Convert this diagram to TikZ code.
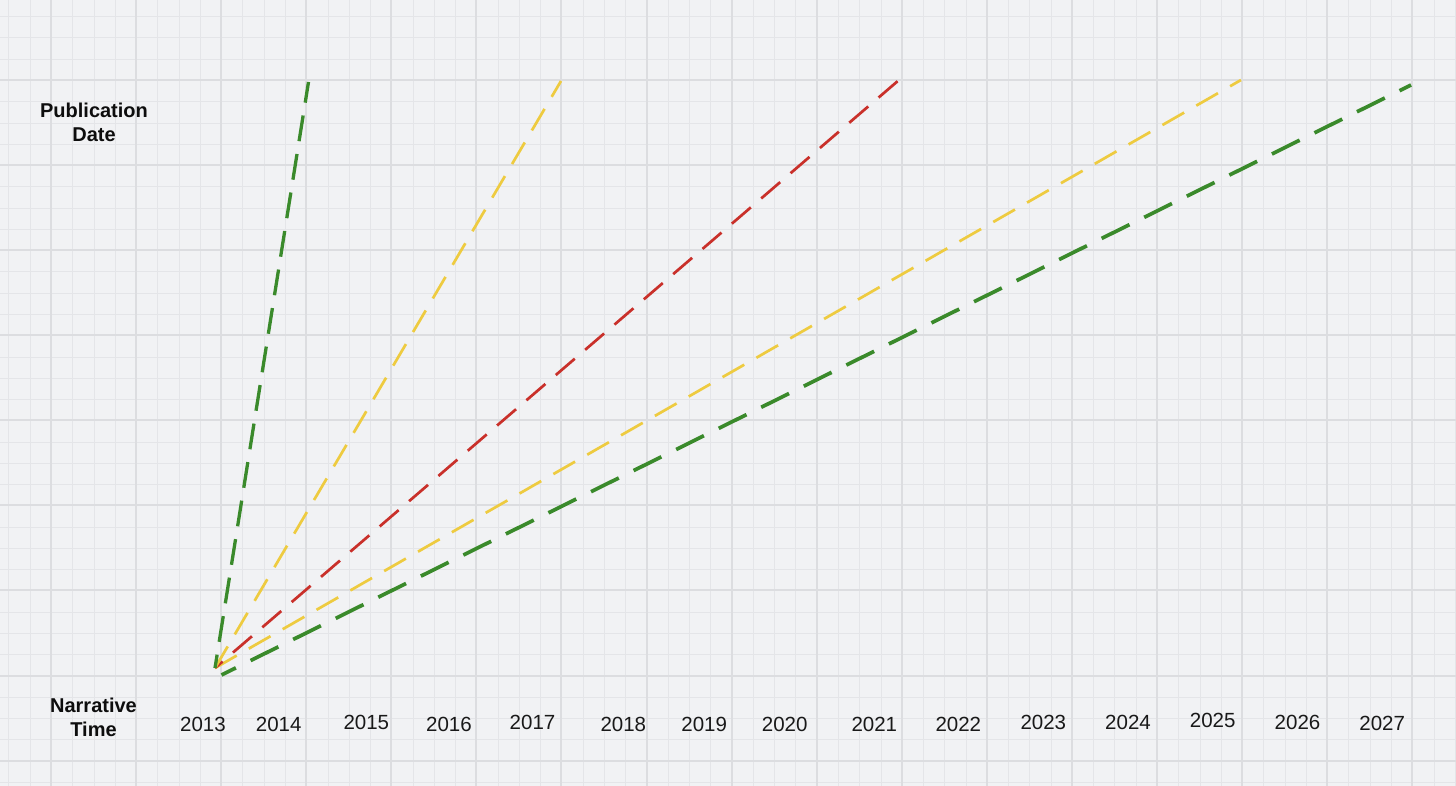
\documentclass[tikz,border=0pt]{standalone}
\usepackage{fontspec}
\setmainfont{Liberation Sans}
\definecolor{bgc}{HTML}{F1F2F4}
\definecolor{minorc}{HTML}{E4E5E8}
\definecolor{majorc}{HTML}{DCDDE0}
\definecolor{grn}{HTML}{3A8A2B}
\definecolor{ylw}{HTML}{EECB40}
\definecolor{redc}{HTML}{C9302A}
\tikzset{
  minorline/.style={draw=minorc, line width=1pt},
  majorline/.style={draw=majorc, line width=1.4pt},
  yearlabel/.style={font=\fontsize{20.5}{24}\selectfont, inner sep=0pt, text=black!90},
  axislabel/.style={font=\fontsize{20}{24}\selectfont\bfseries, align=center, inner sep=0pt, text=black!95},
  greensteep/.style={draw=grn, line width=3.3pt, dash pattern=on 26pt off 13pt, dash phase=12.5pt},
  greenflat/.style={draw=grn, line width=3.7pt, dash pattern=on 31pt off 16.5pt, dash phase=15pt},
  yellowline/.style={draw=ylw, line width=2.7pt, dash pattern=on 25pt off 14pt},
  redline/.style={draw=redc, line width=2.7pt, dash pattern=on 25pt off 13.7pt, dash phase=15pt}
}
\begin{document}
\begin{tikzpicture}[x=1pt,y=-1pt]
\useasboundingbox (0,0) rectangle (1456,786);
\fill[bgc] (0,0) rectangle (1456,786);
% minor grid
\foreach \i in {0,...,68}{
  \pgfmathsetmacro\xx{round(8.45+21.27*\i)+0.5}
  \draw[minorline] (\xx,0) -- (\xx,786);
}
\foreach \i in {0,...,36}{
  \pgfmathsetmacro\yy{round(16.2+21.27*\i)+0.5}
  \draw[minorline] (0,\yy) -- (1456,\yy);
}
% major grid
\foreach \k in {0,...,16}{
  \pgfmathsetmacro\xx{round(51+85.08*\k)}
  \draw[majorline] (\xx,0) -- (\xx,786);
}
\foreach \k in {0,...,8}{
  \pgfmathsetmacro\yy{round(80+85.08*\k)}
  \draw[majorline] (0,\yy) -- (1456,\yy);
}
% axis labels
\node[axislabel] (pub) at (94,122) {Publication\\Date};
\node[axislabel] (nar) at (93.5,717) {Narrative\\Time};
% year labels
\node[yearlabel] (y2013) at (203,724) {2013};
\node[yearlabel] (y2014) at (278.7,724) {2014};
\node[yearlabel] (y2015) at (366.3,722.8) {2015};
\node[yearlabel] (y2016) at (449,724) {2016};
\node[yearlabel] (y2017) at (532.5,722.5) {2017};
\node[yearlabel] (y2018) at (623.3,724) {2018};
\node[yearlabel] (y2019) at (704.2,724) {2019};
\node[yearlabel] (y2020) at (784.7,724) {2020};
\node[yearlabel] (y2021) at (874.3,724) {2021};
\node[yearlabel] (y2022) at (958.3,724) {2022};
\node[yearlabel] (y2023) at (1043.3,722.5) {2023};
\node[yearlabel] (y2024) at (1128,722.5) {2024};
\node[yearlabel] (y2025) at (1212.7,720.8) {2025};
\node[yearlabel] (y2026) at (1297.5,722.5) {2026};
\node[yearlabel] (y2027) at (1382.2,723.7) {2027};
% line end points
\coordinate (o) at (215,668);
\coordinate (o2) at (221.5,675);
\coordinate (g1) at (308.5,82);
\coordinate (ye1) at (561,81);
\coordinate (rd) at (899,80);
\coordinate (ye2) at (1241,80);
\coordinate (g2) at (1411,85);
% dashed lines
\draw[greenflat] (o2) -- (g2);
\draw[yellowline] (o) -- (ye2);
\draw[redline] (o) -- (rd);
\draw[yellowline] (o) -- (ye1);
\draw[greensteep] (o) -- (g1);
\end{tikzpicture}
\end{document}
